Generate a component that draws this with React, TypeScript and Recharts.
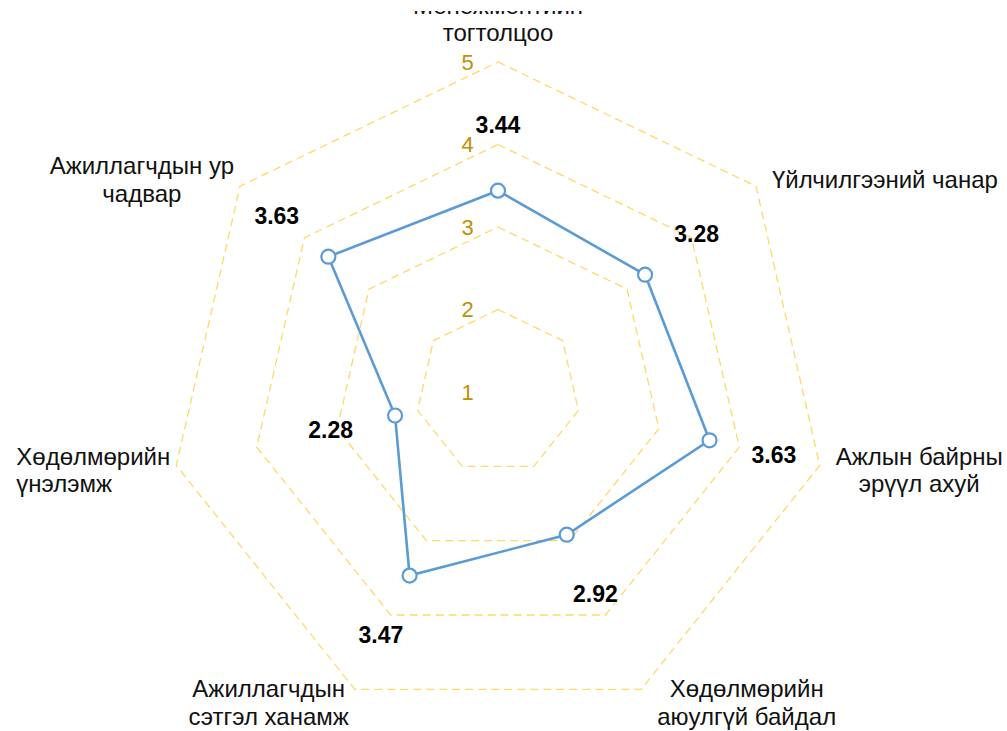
import { RadarChart, Radar, PolarGrid, PolarAngleAxis, PolarRadiusAxis } from "recharts";

const categories = [
  "Менежментийн\nтогтолцоо",
  "Үйлчилгээний чанар",
  "Ажлын байрны\nэрүүл ахуй",
  "Хөдөлмөрийн\nаюулгүй байдал",
  "Ажиллагчдын\nсэтгэл ханамж",
  "Хөдөлмөрийн\nүнэлэмж",
  "Ажиллагчдын ур\nчадвар",
];
const scores = [3.44, 3.28, 3.63, 2.92, 3.47, 2.28, 3.63];
const levelDomain = [1, 5];

const data = categories.map((name, i) => ({ name, score: scores[i] }));

const W = 1007;
const H = 720;
const CX = 498;
const CY = 381;
const OUTER = 330;
const FONT = '"Liberation Sans", Arial, sans-serif';
const LABEL_SIZE = 24;
const LINE_H = 27.5;

let measureCtx: CanvasRenderingContext2D | null = null;
function textWidth(s: string, font: string) {
  if (!measureCtx) measureCtx = document.createElement("canvas").getContext("2d");
  if (!measureCtx) return s.length * 12;
  measureCtx.font = font;
  return measureCtx.measureText(s).width;
}

function AngleTick(props: any) {
  const { x, y, payload } = props;
  const dx = x - CX;
  const dy = y - CY;
  const len = Math.hypot(dx, dy) || 1;
  const ux = dx / len;
  const uy = dy / len;
  const vx = CX + ux * OUTER;
  const vy = CY + uy * OUTER;
  const lines = String(payload.value).split("\n");
  const w = Math.max(...lines.map((l) => textWidth(l, `${LABEL_SIZE}px ${FONT}`)));

  let left: number;
  let firstBase: number;
  let alignStart = false;
  if (Math.abs(ux) < 0.05) {
    left = vx - w / 2;
    firstBase = vy - 21 - (lines.length - 1) * LINE_H;
  } else {
    left = ux > 0 ? vx + 16 : vx - 6 - w;
    const centre = vy + 13 * uy + 2;
    firstBase = centre + 8 - ((lines.length - 1) * LINE_H) / 2;
    alignStart = ux < -0.9;
  }

  return (
    <g>
      {lines.map((line, i) => (
        <text
          key={i}
          x={alignStart ? left : left + w / 2}
          y={firstBase + i * LINE_H}
          textAnchor={alignStart ? "start" : "middle"}
          fontSize={LABEL_SIZE}
          fontFamily={FONT}
          fill="#111"
        >
          {line}
        </text>
      ))}
    </g>
  );
}

function LevelTick(props: any) {
  const { x, y, payload } = props;
  return (
    <text
      x={x - 30.5}
      y={y}
      textAnchor="middle"
      dominantBaseline="central"
      fontSize={22}
      fontFamily={FONT}
      fill="#bf9000"
    >
      {payload.value}
    </text>
  );
}

function ScoreDot(props: any) {
  const { cx, cy, index } = props;
  const dx = cx - CX;
  const dy = cy - CY;
  const len = Math.hypot(dx, dy) || 1;
  const lx = cx + (dx / len) * 66;
  const ly = cy + (dy / len) * 66;
  return (
    <g key={`dot-${index}`}>
      <circle cx={cx} cy={cy} r={7} fill="#fff" stroke="#5b9bd5" strokeWidth={2.2} />
      <text
        x={lx}
        y={ly}
        textAnchor="middle"
        dominantBaseline="central"
        fontSize={23}
        fontWeight="bold"
        fontFamily={FONT}
        fill="#000"
      >
        {scores[index].toFixed(2)}
      </text>
    </g>
  );
}

export default function App() {
  return (
    <div
      style={{
        position: "absolute",
        left: 0,
        top: 11,
        width: W,
        height: H,
        overflow: "hidden",
        background: "#fff",
      }}
    >
      <RadarChart width={W} height={H} data={data} cx={CX} cy={CY} outerRadius={OUTER}>
        <PolarGrid stroke="#ffd966" strokeWidth={1.3} strokeDasharray="8 5" radialLines={false} />
        <PolarAngleAxis dataKey="name" tick={AngleTick} tickLine={false} axisLine={false} />
        <PolarRadiusAxis
          angle={90}
          domain={levelDomain}
          tickCount={5}
          axisLine={false}
          tickLine={false}
          tick={LevelTick}
        />
        <Radar
          dataKey="score"
          stroke="#5b9bd5"
          strokeWidth={2.6}
          fill="none"
          fillOpacity={0}
          dot={ScoreDot}
          isAnimationActive={false}
        />
      </RadarChart>
    </div>
  );
}
